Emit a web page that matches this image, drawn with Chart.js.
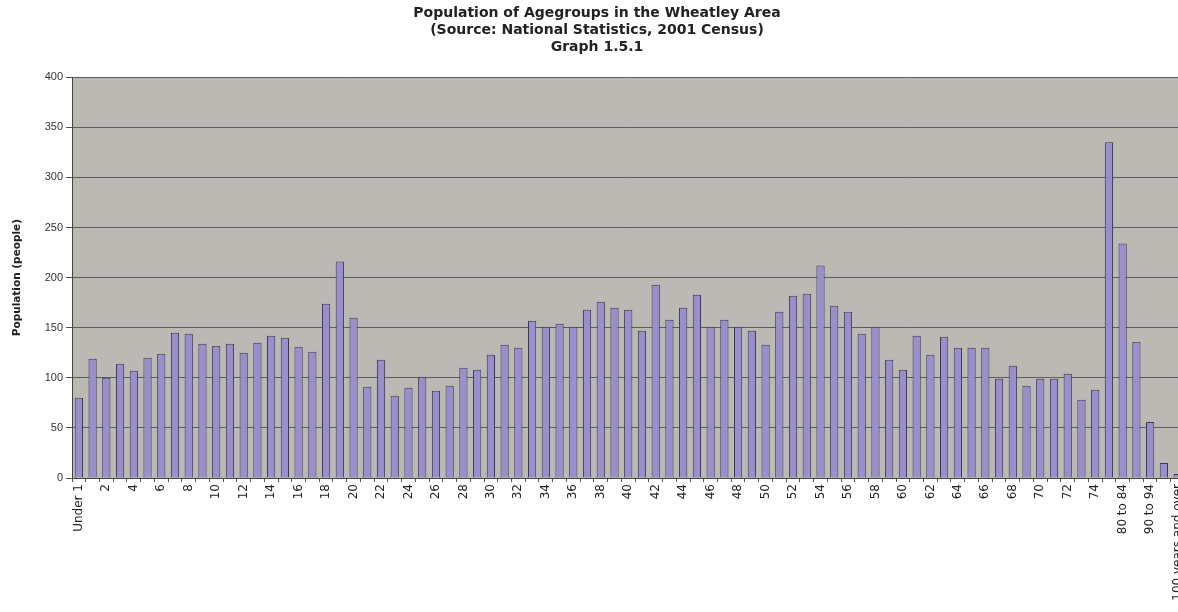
<!DOCTYPE html>
<html>
<head>
<meta charset="utf-8">
<script src="https://cdn.jsdelivr.net/npm/chart.js@4/dist/chart.umd.min.js"></script>
<style>
  html, body { margin: 0; padding: 0; background: #ffffff; overflow: hidden; width: 1178px; height: 612px; }
  #wrap { position: absolute; left: 0; top: 0; width: 1194px; height: 612px; }
</style>
</head>
<body>
<div id="wrap"><canvas id="c" width="1194" height="612"></canvas></div>
<script>
const titleLines = [
  'Population of Agegroups in the Wheatley Area',
  '(Source: National Statistics, 2001 Census)',
  'Graph 1.5.1'
];
const yAxisTitle = 'Population (people)';

const categories = [
  'Under 1','1','2','3','4','5','6','7','8','9',
  '10','11','12','13','14','15','16','17','18','19',
  '20','21','22','23','24','25','26','27','28','29',
  '30','31','32','33','34','35','36','37','38','39',
  '40','41','42','43','44','45','46','47','48','49',
  '50','51','52','53','54','55','56','57','58','59',
  '60','61','62','63','64','65','66','67','68','69',
  '70','71','72','73','74',
  '75 to 79','80 to 84','85 to 89','90 to 94','95 to 99','100 years and over'
];

const population = [
  80, 119, 100, 114, 107, 120, 124, 145, 144, 134,
  132, 134, 125, 135, 142, 140, 131, 126, 174, 216,
  160, 91, 118, 82, 90, 101, 87, 92, 110, 108,
  123, 133, 130, 157, 151, 154, 151, 168, 176, 170,
  168, 147, 193, 158, 170, 183, 151, 158, 151, 147,
  133, 166, 182, 184, 212, 172, 166, 144, 151, 118,
  108, 142, 123, 141, 130, 130, 130, 99, 112, 92,
  99, 99, 104, 78, 88,
  335, 234, 136, 56, 15, 4
];

const yMin = 0, yMax = 400, yStep = 50;

const plotBg = {
  id: 'plotBg',
  beforeDraw(chart) {
    const a = chart.chartArea, ctx = chart.ctx;
    ctx.save();
    ctx.fillStyle = '#bcb9b4';
    ctx.fillRect(a.left, a.top, a.right - a.left, a.bottom - a.top);
    ctx.restore();
  }
};

new Chart(document.getElementById('c'), {
  type: 'bar',
  data: {
    labels: categories,
    datasets: [{
      data: population,
      backgroundColor: '#988fcc',
      borderColor: '#3c3852',
      borderWidth: 1,
      borderSkipped: 'bottom',
      barPercentage: 0.6,
      categoryPercentage: 1.0
    }]
  },
  options: {
    responsive: false,
    animation: false,
    layout: { padding: { left: 0, right: 0, top: 0, bottom: 0 } },
    plugins: {
      legend: { display: false },
      tooltip: { enabled: false },
      title: {
        display: true,
        text: titleLines,
        color: '#222',
        font: { family: 'DejaVu Sans', size: 14, weight: 'bold', lineHeight: 1.22 },
        padding: { top: 5, bottom: 21 }
      }
    },
    scales: {
      x: {
        offset: true,
        grid: { display: true, drawOnChartArea: false, drawTicks: true, tickLength: 4, color: '#555', offset: true },
        border: { display: true, color: '#444', width: 1 },
        ticks: {
          autoSkip: false,
          minRotation: 90,
          maxRotation: 90,
          padding: 2,
          color: '#222',
          font: { family: 'DejaVu Sans', size: 12 },
          callback: function(value, index) { return index % 2 === 0 ? categories[index] : ''; }
        },
        afterFit: function(scale) { scale.height = 134; }
      },
      y: {
        min: yMin,
        max: yMax,
        grid: { color: '#5c5c5c', lineWidth: 1, drawTicks: true, tickLength: 6, tickColor: '#555' },
        border: { display: true, color: '#444', width: 1 },
        ticks: {
          stepSize: yStep,
          padding: 3,
          color: '#333',
          font: { family: 'Liberation Sans', size: 11 }
        },
        title: {
          display: true,
          text: yAxisTitle,
          color: '#222',
          font: { family: 'DejaVu Sans', size: 10.5, weight: 'bold' },
          padding: { top: 11, bottom: 0 }
        },
        afterFit: function(scale) { scale.width = 72; }
      }
    }
  },
  plugins: [plotBg]
});
</script>
</body>
</html>
